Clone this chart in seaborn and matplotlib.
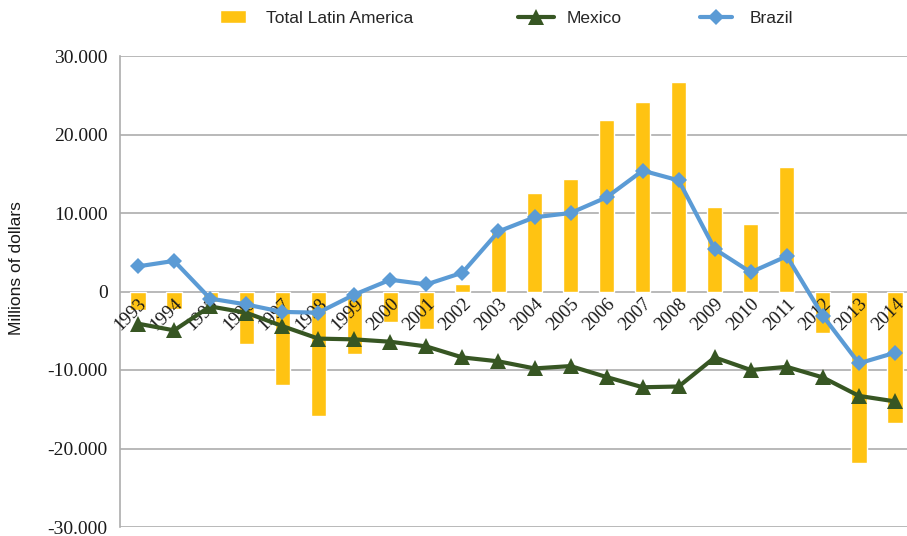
import numpy as np
import pandas as pd
import matplotlib
matplotlib.use("Agg")
import matplotlib.pyplot as plt
import seaborn as sns

# Net flows by year, millions of dollars
years = [str(y) for y in range(1993, 2015)]
total_latam = [-2300, -2200, -1400, -6700, -11900, -15800, -7900, -3900, -4800, 900,
               7700, 12500, 14300, 21800, 24100, 26700, 10750, 8600, 15800, -5300,
               -21900, -16700]
mexico = [-4100, -4950, -1900, -2700, -4400, -6000, -6100, -6400, -7000, -8400,
          -8900, -9800, -9500, -10900, -12200, -12100, -8400, -10000, -9600, -10950,
          -13300, -14000]
brazil = [3200, 3900, -900, -1650, -2600, -2700, -400, 1500, 900, 2400,
          7650, 9450, 10000, 12000, 15400, 14150, 5400, 2450, 4500, -3100,
          -9150, -7800]
y_ticks = [-30000, -20000, -10000, 0, 10000, 20000, 30000]
y_ticklabels = ["-30.000", "-20.000", "-10.000", "0", "10.000", "20.000", "30.000"]

df = pd.DataFrame({"year": years, "Total Latin America": total_latam,
                   "Mexico": mexico, "Brazil": brazil})
df["pos"] = np.arange(len(years))

sns.set_theme(style="white")
plt.rcParams["font.family"] = ["Liberation Sans", "DejaVu Sans"]

fig = plt.figure(figsize=(9.07, 5.36), dpi=100)
W, H = 907, 536
ax = fig.add_axes([120 / W, (H - 527) / H, 793 / W, 471 / H])

bar_color = "#FFC312"
sns.barplot(data=df, x="year", y="Total Latin America", color=bar_color,
            width=0.42, saturation=1, ax=ax, zorder=2, label="Total Latin America")

sns.lineplot(data=df, x="pos", y="Mexico", color="#375623", linewidth=3,
             marker="^", markersize=11, markeredgewidth=0, ax=ax, zorder=3,
             label="Mexico")
sns.lineplot(data=df, x="pos", y="Brazil", color="#5B9BD5", linewidth=3,
             marker="D", markersize=8, markeredgewidth=0, ax=ax, zorder=4,
             label="Brazil")

ax.set_xlim(-0.5, len(years) - 0.5)
ax.set_ylim(-30000, 30000)
ax.set_yticks(y_ticks)
ax.set_yticklabels(y_ticklabels, family="Liberation Serif", fontsize=14,
                   color="#1a1a1a")
ax.yaxis.grid(True, color="#ADADAD", linewidth=1.2, zorder=0)
ax.set_axisbelow(True)

# Year labels sit on the zero line, above the bars but under the lines
ax.spines["bottom"].set_position(("data", 0))
ax.spines["bottom"].set_visible(False)
ax.set_xticks(range(len(years)))
ax.set_xticklabels(years, rotation=45, ha="right", rotation_mode="anchor",
                   family="Liberation Serif", fontsize=13.5, color="#1a1a1a")
ax.tick_params(axis="x", length=0, pad=3)
ax.tick_params(axis="y", length=0, pad=9)
ax.xaxis.set_zorder(2.5)

for s in ["top", "right"]:
    ax.spines[s].set_visible(False)
ax.spines["left"].set_color("#ADADAD")
ax.spines["left"].set_linewidth(1.2)

ax.set_xlabel("")
ax.set_ylabel("Millions of dollars", fontsize=12.5, color="#1a1a1a")
ax.yaxis.set_label_coords(-(120 - 24) / 793, (527 - 268) / 471)

# Legend entries spread along the top
handles, labels = ax.get_legend_handles_labels()
if ax.legend_:
    ax.legend_.remove()
lookup = dict(zip(labels, handles))
fs = 12.5
spots = [("Total Latin America", 220, 1.5, 1.15),
         ("Mexico", 518, 2.1, 0.7),
         ("Brazil", 700, 1.85, 1.0)]
for name, xpix, hlen, hpad in spots:
    fig.legend([lookup[name]], [name], loc="center left",
               bbox_to_anchor=(xpix / W, 1 - 18 / H), frameon=False,
               fontsize=fs, handlelength=hlen, handletextpad=hpad,
               borderaxespad=0, borderpad=0)

fig.savefig("out.png", dpi=100)
